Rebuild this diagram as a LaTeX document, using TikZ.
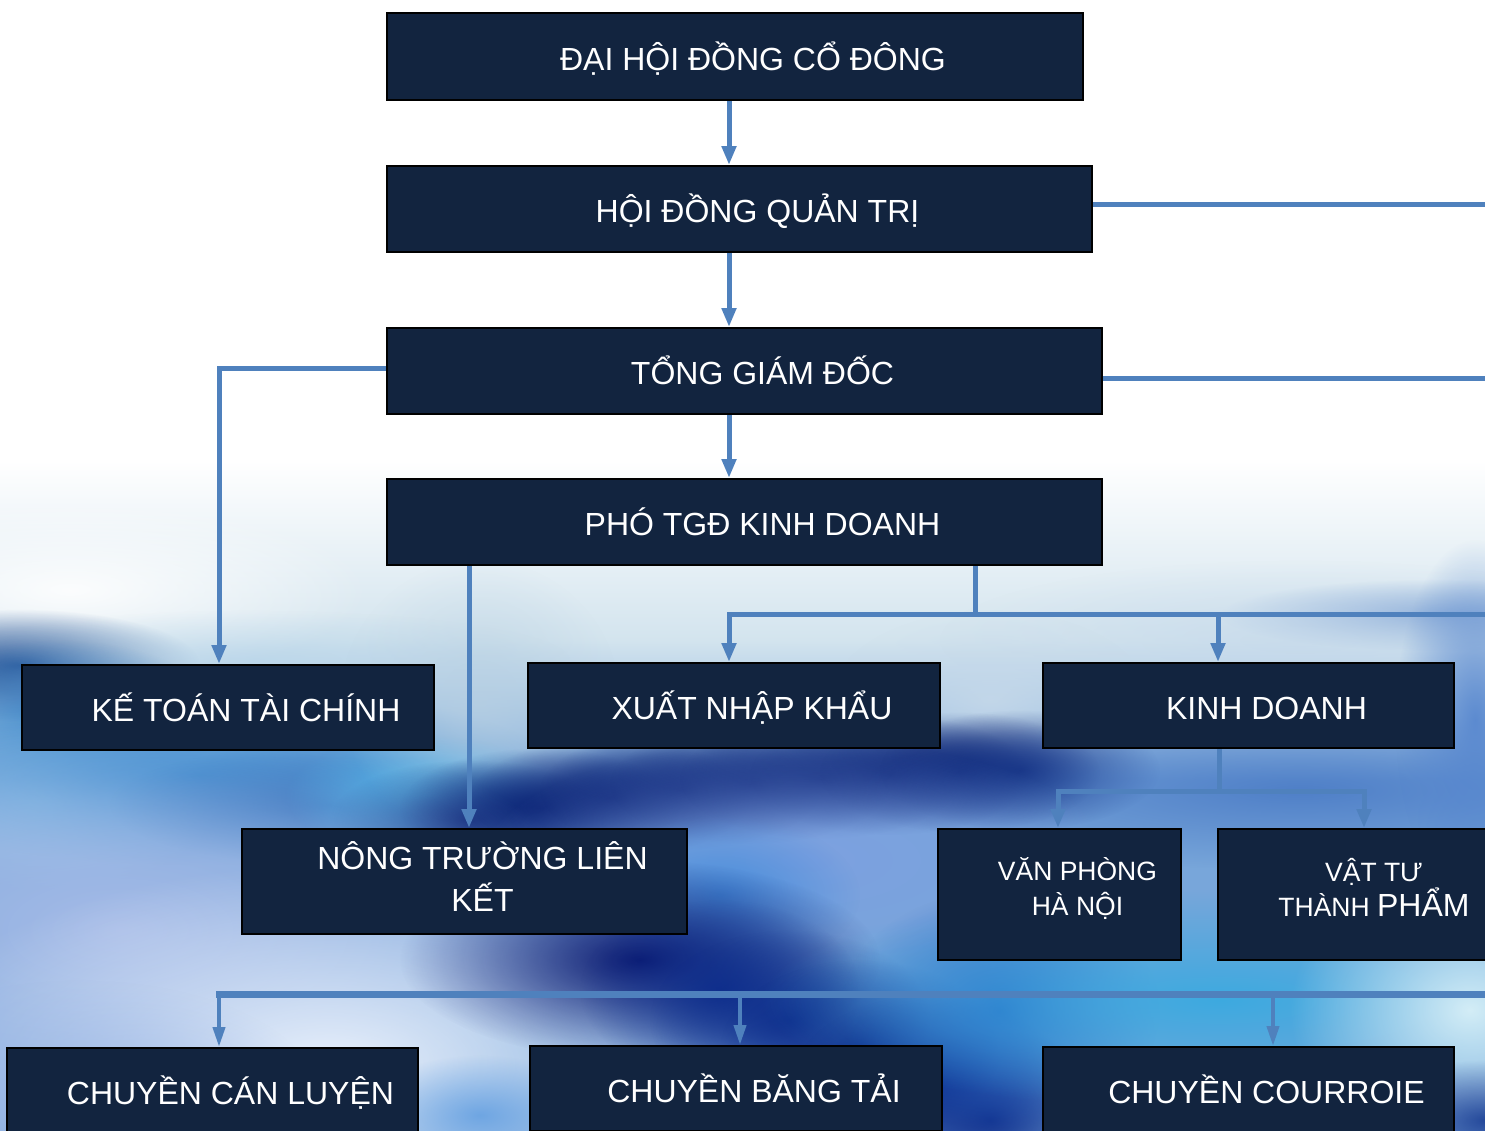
\documentclass[tikz,border=0pt]{standalone}
\usepackage{fontspec}
\setmainfont{Liberation Sans}
\usetikzlibrary{arrows.meta,fadings}
\definecolor{navy}{HTML}{12243F}
\definecolor{lineblue}{HTML}{4F81BD}
\definecolor{bgPale}{HTML}{D3E4EE}
\definecolor{bgMid}{HTML}{78A6DA}
\tikzfading[name=blob, inner color=transparent!0, outer color=transparent!100]
\newcommand\myblob[6]{\definecolor{blobc}{HTML}{#5}\fill[blobc, opacity=#6, path fading=blob] (#1,#2) ellipse [x radius={2*#3}, y radius={2*#4}];}
\begin{document}
\begin{tikzpicture}[x=0.5pt,y=-0.5pt,
  orgbox/.style={draw=black, line width=1pt, fill=navy, inner sep=0pt},
  lbl/.style={text=white, font=\fontsize{16}{21}\selectfont, align=center,
              text height=11.5pt, text depth=0pt, xshift=9pt, yshift=-1pt},
  arr/.style={draw=lineblue, line width=2.5pt, -{Triangle[width=7pt,length=9.5pt]}},
  ln/.style={draw=lineblue, line width=2.5pt},
  thinarr/.style={draw=lineblue, line width=2pt, -{Triangle[width=6pt,length=10pt]}},
  bus/.style={draw=lineblue, line width=3.5pt}]
\useasboundingbox (0,0) rectangle (1485,1131);
\begin{scope}
\clip (0,0) rectangle (1485,1131);
% ---------- background ----------
\fill[white] (0,0) rectangle (1485,1131);
\shade[top color=white, bottom color=bgPale] (0,460) rectangle (1485,640);
\shade[top color=bgPale, bottom color=bgMid] (0,640) rectangle (1485,780);
\fill[bgMid] (0,780) rectangle (1485,1131);
% soft patches
\myblob{70}{590}{150}{45}{FFFFFF}{.9}
\myblob{1440}{615}{110}{18}{5E8ACB}{.7}
\myblob{1300}{640}{180}{40}{C2D6EA}{.6}
\myblob{20}{665}{90}{28}{0B3C88}{.95}
\myblob{250}{660}{160}{25}{B9D6EA}{.7}
\myblob{60}{720}{80}{40}{2F7DC4}{.8}
\myblob{40}{800}{90}{45}{9CCBEA}{.9}
\myblob{200}{775}{180}{45}{2E86CC}{.9}
\myblob{330}{805}{110}{30}{1E5FB0}{.8}
\myblob{425}{795}{70}{30}{4EC0F0}{.95}
\myblob{480}{700}{70}{70}{B8D0E2}{.7}
\myblob{990}{700}{80}{45}{C8DAEA}{.8}
% dark wave
\foreach \px/\py in {470/820,540/808,610/798,680/790,750/784,820/779,890/775,960/772,1020/770}
  {\myblob{\px}{\py}{70}{30}{0A2275}{.9}}
\myblob{1300}{790}{220}{40}{3E6FC0}{.7}
\myblob{1475}{720}{40}{90}{5585CE}{.9}
% lower area
\myblob{120}{930}{240}{110}{A8BCE8}{.95}
\myblob{330}{1065}{220}{100}{EEF4FD}{.95}
\myblob{80}{1100}{120}{60}{9CB6E6}{.8}
\myblob{800}{860}{160}{60}{7E9FE2}{.8}
\myblob{720}{895}{70}{40}{3A88DA}{.8}
\myblob{640}{960}{120}{50}{06126A}{.95}
\foreach \px/\py in {720/990,790/1020,860/1050,930/1085,990/1120}
  {\myblob{\px}{\py}{70}{45}{0A2A8A}{.85}}
\myblob{480}{1115}{60}{30}{5C9BE0}{.8}
\myblob{1000}{1010}{80}{60}{1F5FC0}{.9}
\myblob{1220}{1000}{230}{55}{3AAAE0}{.95}
\myblob{1470}{1010}{90}{70}{DAF1F8}{.95}
\myblob{1485}{1120}{60}{30}{0B2E8A}{.8}

% ---------- boxes ----------
\node[orgbox, minimum width=348pt, minimum height=43.5pt,
      label={[lbl]center:ĐẠI HỘI ĐỒNG CỔ ĐÔNG}] (dh) at (735,56.5) {};
\node[orgbox, minimum width=352.5pt, minimum height=43pt,
      label={[lbl]center:HỘI ĐỒNG QUẢN TRỊ}] (hd) at (739.5,209) {};
\node[orgbox, minimum width=357.5pt, minimum height=43pt,
      label={[lbl]center:TỔNG GIÁM ĐỐC}] (tgd) at (744.5,371) {};
\node[orgbox, minimum width=357.5pt, minimum height=43pt,
      label={[lbl]center:PHÓ TGĐ KINH DOANH}] (pho) at (744.5,522) {};
\node[orgbox, minimum width=206pt, minimum height=42.5pt,
      label={[lbl, yshift=0pt]center:KẾ TOÁN TÀI CHÍNH}] (kt) at (228,707.5) {};
\node[orgbox, minimum width=206pt, minimum height=42.5pt,
      label={[lbl]center:XUẤT NHẬP KHẨU}] (xnk) at (734,705.5) {};
\node[orgbox, minimum width=205.5pt, minimum height=42.5pt,
      label={[lbl]center:KINH DOANH}] (kd) at (1248.5,705.5) {};
\node[orgbox, minimum width=222.5pt, minimum height=52.5pt,
      label={[lbl, text height=, text depth=, yshift=3.5pt]center:NÔNG TRƯỜNG LIÊN\\KẾT}] (nt) at (464.5,881.5) {};
\node[orgbox, minimum width=121.5pt, minimum height=65.5pt,
      label={[lbl, font=\fontsize{13.25}{17.5}\selectfont, text height=, text depth=, yshift=4pt]center:VĂN PHÒNG\\HÀ NỘI}] (vp) at (1059.5,894.5) {};
\node[orgbox, minimum width=138pt, minimum height=65.5pt,
      label={[lbl, font=\fontsize{13.25}{17.5}\selectfont, text height=, text depth=, yshift=4.5pt]center:VẬT TƯ\\THÀNH {\fontsize{16}{17.5}\selectfont PHẨM}}] (vt) at (1356,894.5) {};
\node[orgbox, minimum width=205.5pt, minimum height=42.5pt,
      label={[lbl]center:CHUYỀN CÁN LUYỆN}] (c1) at (212.5,1090.5) {};
\node[orgbox, minimum width=206pt, minimum height=42.5pt,
      label={[lbl]center:CHUYỀN BĂNG TẢI}] (c2) at (736,1088.5) {};
\node[orgbox, minimum width=205.5pt, minimum height=42.5pt,
      label={[lbl]center:CHUYỀN COURROIE}] (c3) at (1248.5,1089.5) {};

% ---------- reference coordinates ----------
\coordinate (sp) at (729,0);
\coordinate (R) at (1495,0);
\coordinate (ktx) at (219,0);
\coordinate (ntx) at (469,0);
\coordinate (kdx) at (1218,0);
\coordinate (b1) at (975,614);
\coordinate (b2) at (1219,791);
\coordinate (vpx) at (1058,0);
\coordinate (vtx) at (1364,0);
\coordinate (b3) at (216,994);
\coordinate (c1x) at (219,0);
\coordinate (c2x) at (740,0);
\coordinate (c3x) at (1273,0);

% ---------- connectors ----------
\draw[arr] (dh.south -| sp) -- (hd.north -| sp);
\draw[arr] (hd.south -| sp) -- (tgd.north -| sp);
\draw[arr] (tgd.south -| sp) -- (pho.north -| sp);
\draw[ln] ([yshift=2.5pt]hd.east) -- ([yshift=2.5pt]hd.east -| R);
\draw[ln] ([yshift=-3.5pt]tgd.east) -- ([yshift=-3.5pt]tgd.east -| R);
\draw[arr] ([yshift=1.5pt]tgd.west) -| (kt.north -| ktx);
\draw[arr] (pho.south -| ntx) -- (nt.north -| ntx);
\draw[ln] (pho.south -| b1) -- (b1);
\draw[ln] (b1) -- (b1 -| R);
\draw[arr] (b1) -| (xnk.north -| sp);
\draw[arr] (b1 -| kdx) -- (kd.north -| kdx);
\draw[ln] (kd.south -| b2) -- (b2);
\draw[arr] (b2) -| (vp.north -| vpx);
\draw[arr] (b2) -| (vt.north -| vtx);
\draw[bus] (b3) -- (b3 -| R);
\draw[thinarr] (b3 -| c1x) -- (c1.north -| c1x);
\draw[thinarr] (b3 -| c2x) -- (c2.north -| c2x);
\draw[thinarr] (b3 -| c3x) -- (c3.north -| c3x);
\end{scope}
\end{tikzpicture}
\end{document}
